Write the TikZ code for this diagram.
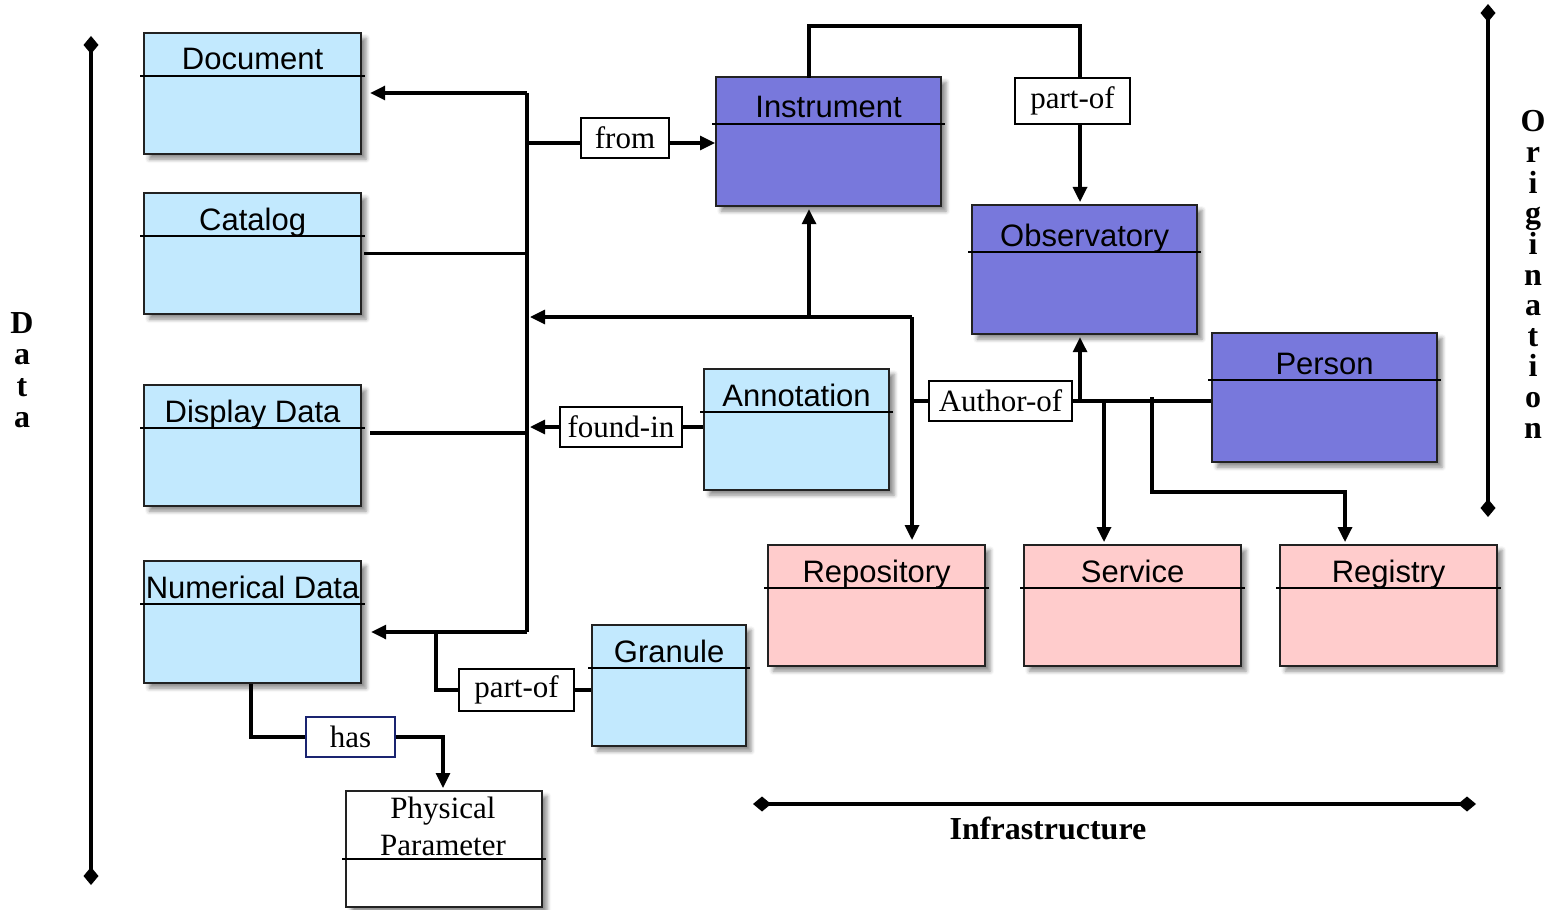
\documentclass[tikz,border=0pt]{standalone}
\usepackage{fontspec}
\setmainfont{Liberation Serif}
\newfontfamily\sansf{Liberation Sans}
\usetikzlibrary{arrows.meta,calc,shadows.blur}
\definecolor{lblue}{HTML}{C2E9FE}
\definecolor{purp}{HTML}{7878DC}
\definecolor{pinkbox}{HTML}{FFCCCC}
\definecolor{navyb}{HTML}{1A2470}
\definecolor{boxedge}{HTML}{222222}
\tikzset{
  umlbox/.style={draw=boxedge, line width=1.1pt, inner sep=0pt, anchor=north west,
    blur shadow={shadow xshift=2.5pt, shadow yshift=-2.5pt, shadow blur radius=2pt, shadow opacity=45}},
  hline/.style={line width=1.4pt, black},
  title/.style={anchor=base, inner sep=0pt, font=\sansf\fontsize{15.5}{18}\selectfont},
  rel/.style={draw, fill=white, line width=0.6pt, inner sep=0pt, minimum height=20pt,
    font=\fontsize{15.5}{18}\selectfont},
  conn/.style={line width=1.6pt, black},
  tip/.style={-{Triangle[length=7.5pt,width=7pt]}},
  axis/.style={line width=2pt, {Diamond[length=9pt,width=7.5pt]}-{Diamond[length=9pt,width=7.5pt]}},
  axletter/.style={anchor=base, inner sep=0pt, font=\bfseries\fontsize{16}{18}\selectfont}
}
\begin{document}
\begin{tikzpicture}[x=0.5pt,y=-0.5pt]
\useasboundingbox (0,0) rectangle (1550,909);

% ---------- boxes ----------
\node[umlbox, fill=lblue, minimum width=108.5pt, minimum height=60.5pt] (doc) at (143,32) {};
\node[umlbox, fill=lblue, minimum width=108.5pt, minimum height=60.5pt] (cat) at (143,192) {};
\node[umlbox, fill=lblue, minimum width=108.5pt, minimum height=60.5pt] (disp) at (143,384) {};
\node[umlbox, fill=lblue, minimum width=108.5pt, minimum height=61pt] (num) at (143,560) {};
\node[umlbox, fill=purp, minimum width=112.5pt, minimum height=64.5pt] (inst) at (715,76) {};
\node[umlbox, fill=purp, minimum width=112.5pt, minimum height=64.5pt] (obs) at (971,204) {};
\node[umlbox, fill=purp, minimum width=112.5pt, minimum height=64.5pt] (pers) at (1211,332) {};
\node[umlbox, fill=lblue, minimum width=92.5pt, minimum height=60.5pt] (ann) at (703,368) {};
\node[umlbox, fill=lblue, minimum width=77pt, minimum height=60.5pt] (gran) at (591,624) {};
\node[umlbox, fill=pinkbox, minimum width=108.5pt, minimum height=60.5pt] (repo) at (767,544) {};
\node[umlbox, fill=pinkbox, minimum width=108.5pt, minimum height=60.5pt] (serv) at (1023,544) {};
\node[umlbox, fill=pinkbox, minimum width=108.5pt, minimum height=60.5pt] (regi) at (1279,544) {};
\node[umlbox, fill=white, minimum width=98pt, minimum height=58pt] (pp) at (345,790) {};

% header lines
\foreach \b/\h in {doc/44, cat/44, disp/44, num/44, ann/44, gran/44, repo/44, serv/44, regi/44, inst/48, obs/48, pers/48, pp/69}{
  \draw[hline] ($(\b.north west)+(-3,\h)$) -- ($(\b.north east)+(3,\h)$);
}

% titles
\node[title] (docT)  at ($(doc.north)+(0,38)$) {Document};
\node[title] (catT)  at ($(cat.north)+(0,38)$) {Catalog};
\node[title] (dispT) at ($(disp.north)+(0,38)$) {Display Data};
\node[title] (numT)  at ($(num.north)+(0,38)$) {Numerical Data};
\node[title] (instT) at ($(inst.north)+(0,42)$) {Instrument};
\node[title] (obsT)  at ($(obs.north)+(0,42)$) {Observatory};
\node[title] (persT) at ($(pers.north)+(0,42)$) {Person};
\node[title] (annT)  at ($(ann.north)+(0,38)$) {Annotation};
\node[title] (granT) at ($(gran.north)+(0,38)$) {Granule};
\node[title] (repoT) at ($(repo.north)+(0,38)$) {Repository};
\node[title] (servT) at ($(serv.north)+(0,38)$) {Service};
\node[title] (regiT) at ($(regi.north)+(0,38)$) {Registry};
\node[anchor=base, inner sep=0pt, font=\fontsize{15.5}{18}\selectfont] (ppT1) at (443,818) {Physical};
\node[anchor=base, inner sep=0pt, font=\fontsize{15.5}{18}\selectfont] (ppT2) at (443,855) {Parameter};

% relation labels
\node[rel, minimum width=44pt] (from) at (625,138) {from};
\node[rel, minimum width=57.5pt, minimum height=23pt] (po1) at (1072.5,101) {part-of};
\node[rel, minimum width=61pt] (found) at (621,427) {found-in};
\node[rel, minimum width=71.5pt] (auth) at (1000.5,401) {Author-of};
\node[rel, minimum width=57.5pt, minimum height=21pt] (po2) at (516.5,690) {part-of};
\node[rel, draw=navyb, minimum width=44.5pt] (has) at (350.5,737) {has};

% ---------- connectors ----------
\coordinate (tA) at (527,93);
\coordinate (tB) at (527,632);
\coordinate (tF) at (527,143);
\coordinate (hR) at (912,317);
\coordinate (hI) at (809,317);
\coordinate (hL) at (530,317);
\coordinate (iTop) at (809,26);
\coordinate (oTop) at (1080,26);
\coordinate (aL) at (912,401);
\coordinate (aO) at (1080,401);
\coordinate (aS) at (1104,401);
\coordinate (aR) at (1152,397);
\coordinate (aR2) at (1152,492);
\coordinate (aR3) at (1345,492);
\coordinate (gJ) at (436,690);
\coordinate (gJ2) at (436,632);
\coordinate (hA) at (251,737);
\coordinate (hB) at (443,737);

\draw[conn] (tA) -- (tB);
\draw[conn, tip] (tA) -- ([xshift=4pt]doc.east |- tA);
\draw[conn] ([xshift=1pt]cat.east) -- (cat.east -| tA);
\draw[conn] ($(disp.north east)+(8,49)$) -- ($(disp.north east)+(167,49)$);
\draw[conn, tip] (tB) -- ([xshift=4.5pt]num.east |- tB);
\draw[conn] (tF) -- (from.west |- tF);
\draw[conn, tip] (from.east |- tF) -- (inst.west |- tF);

\draw[conn, tip] (hR) -- (hL);
\draw[conn, tip] (hI) -- ([yshift=-1pt]inst.south -| hI);
\draw[conn, tip] (hR) -- ([yshift=2pt]repo.north -| hR);

\draw[conn] ([yshift=-1pt]inst.north -| iTop) -- (iTop) -- (oTop) -- (po1.north -| oTop);
\draw[conn, tip] (po1.south -| oTop) -- ([yshift=1pt]obs.north -| oTop);

\draw[conn] (ann.west |- found) -- (found.east);
\draw[conn, tip] (found.west) -- (found.west -| hL);

\draw[conn] (aL) -- (auth.west);
\draw[conn] (auth.east) -- (pers.west |- aL);
\draw[conn, tip] (aO) -- ([yshift=-1pt]obs.south -| aO);
\draw[conn, tip] (aS) -- ([yshift=1pt]serv.north -| aS);
\draw[conn, tip] (aR) -- (aR2) -- (aR3) -- ([yshift=1pt]regi.north -| aR3);

\draw[conn] (gran.west |- gJ) -- (po2.east);
\draw[conn] (po2.west) -- (gJ) -- (gJ2);

\draw[conn] (num.south -| hA) -- (hA) -- (has.west);
\draw[conn, tip] (has.east) -- (hB) -- ([yshift=1pt]pp.north -| hB);

% ---------- axes ----------
\coordinate (dTop) at (91,36);
\coordinate (dBot) at (91,885);
\draw[axis] (dTop) -- (dBot);
\coordinate (oT) at (1488,4);
\coordinate (oB) at (1488,517);
\draw[axis] (oT) -- (oB);
\coordinate (iL) at (753,804);
\coordinate (iR) at (1476,804);
\draw[axis] (iL) -- (iR);

\foreach \l [count=\i] in {D,a,t,a}
  \node[axletter] (dl\i) at (22,{333+31.5*(\i-1)}) {\l};
\foreach \l [count=\i] in {O,r,i,g,i,n,a,t,i,o,n}
  \node[axletter] (ol\i) at (1533,{132+30.6*(\i-1)}) {\l};
\node[axletter] (infra) at (1048,839) {Infrastructure};
\end{tikzpicture}
\end{document}
